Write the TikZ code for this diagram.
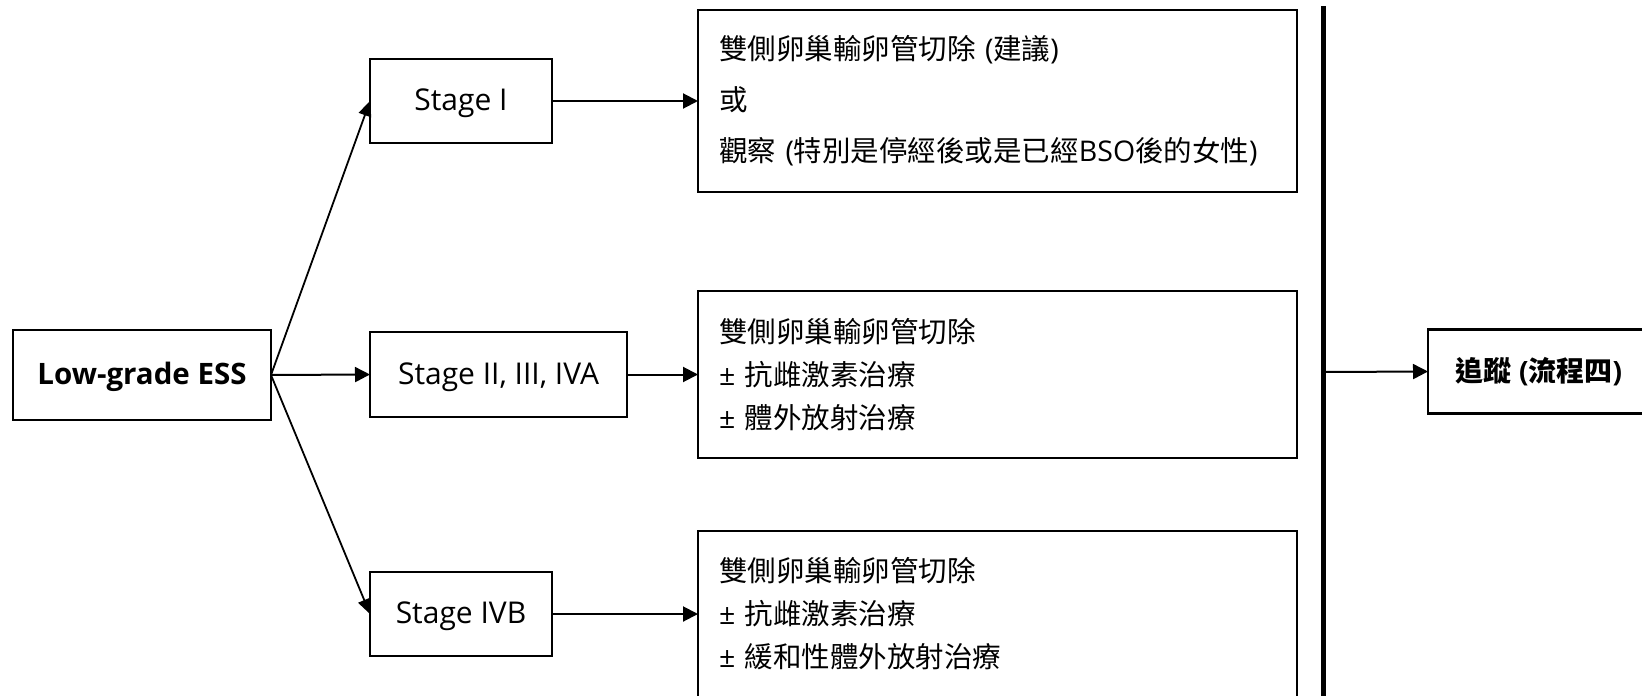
\documentclass[tikz,border=0pt]{standalone}
\usepackage{fontspec}
\setmainfont{Open Sans}
\newfontfamily\cjk{Noto Sans CJK TC}
\newcommand\zh[1]{{\cjk #1}}
\usetikzlibrary{arrows.meta}
\begin{document}
\begin{tikzpicture}[x=1pt,y=-1pt,
  box/.style={draw, line width=2.2pt, inner sep=0pt, outer sep=0pt},
  lbl/.style={box, font=\fontsize{30}{34}\selectfont, text height=24pt, text depth=5pt},
  txt/.style={box, minimum width=599pt, text width=557pt, align=left},
  arr/.style={line width=2pt, -{Triangle[length=15pt,width=15pt]}},
  darr/.style={line width=1.8pt, -{Triangle[length=15pt,width=13pt]}}
]
\useasboundingbox (0,0) rectangle (1642,696);
\fill[white] (0,0) rectangle (1642,696);

\node[lbl, minimum width=258pt, minimum height=90pt, font=\fontsize{29.5}{34}\selectfont\bfseries] (low) at (142,375) {Low-grade ESS};
\node[lbl, minimum width=182pt, minimum height=84pt] (s1) at (461,101) {Stage I};
\node[lbl, minimum width=257pt, minimum height=85pt] (s2) at (498.5,374.5) {Stage II, III, IVA};
\node[lbl, minimum width=182pt, minimum height=84pt] (s4) at (461,614) {Stage IVB};

\node[txt, minimum height=182pt, font=\fontsize{28.5}{51}\selectfont] (b1) at (997.5,101)
  {\zh{雙側卵巢輸卵管切除} (\zh{建議})\\ \zh{或}\\ \zh{觀察} (\zh{特別是停經後或是已經}BSO\zh{後的女性})};
\node[txt, minimum height=167pt, font=\fontsize{28.5}{43}\selectfont] (b2) at (997.5,374.5)
  {\zh{雙側卵巢輸卵管切除}\\ ± \zh{抗雌激素治療}\\ ± \zh{體外放射治療}};
\node[txt, minimum height=166pt, font=\fontsize{28.5}{43}\selectfont] (b3) at (997.5,614)
  {\zh{雙側卵巢輸卵管切除}\\ ± \zh{抗雌激素治療}\\ ± \zh{緩和性體外放射治療}};

\coordinate (bartop) at (1323.5,6);
\coordinate (barbot) at (1323.5,700);
\coordinate (barmid) at (1323.5,372);
\draw[line width=5pt] (bartop) -- (barbot);

\node[box, minimum width=222pt, minimum height=84pt, font=\fontsize{28}{32}\selectfont\bfseries] (fol) at (1539,371.5) {\zh{追蹤} (\zh{流程四})};

\draw[darr] (low.east) -- (s1.west);
\draw[arr] (low.east) -- (s2.west);
\draw[darr] (low.east) -- (s4.west);
\draw[arr] (s1.east) -- (b1.west);
\draw[arr] (s2.east) -- (b2.west);
\draw[arr] (s4.east) -- (b3.west);
\draw[arr] (barmid) -- (fol.west);
\end{tikzpicture}
\end{document}
